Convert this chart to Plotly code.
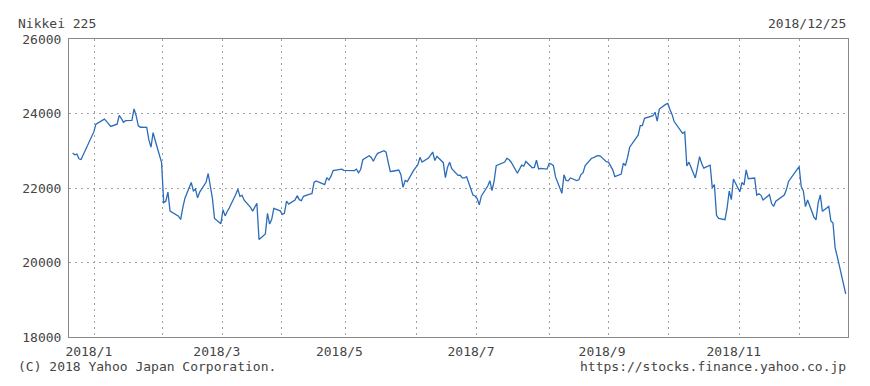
import plotly.graph_objects as go

# ---- data (daily closes) ----
dates = [
    "2017-12-25", "2017-12-26", "2017-12-27", "2017-12-28", "2017-12-29",
    "2018-01-04", "2018-01-05", "2018-01-09", "2018-01-10", "2018-01-11", "2018-01-12",
    "2018-01-15", "2018-01-16", "2018-01-17", "2018-01-18", "2018-01-19",
    "2018-01-22", "2018-01-23", "2018-01-24", "2018-01-25", "2018-01-26",
    "2018-01-29", "2018-01-30", "2018-01-31",
    "2018-02-01", "2018-02-02", "2018-02-05", "2018-02-06", "2018-02-07", "2018-02-08",
    "2018-02-09", "2018-02-13", "2018-02-14", "2018-02-15", "2018-02-16",
    "2018-02-19", "2018-02-20", "2018-02-21", "2018-02-22", "2018-02-23",
    "2018-02-26", "2018-02-27", "2018-02-28",
    "2018-03-01", "2018-03-02", "2018-03-05", "2018-03-06", "2018-03-07", "2018-03-08",
    "2018-03-09", "2018-03-12", "2018-03-13", "2018-03-14", "2018-03-15", "2018-03-16",
    "2018-03-19", "2018-03-20", "2018-03-22", "2018-03-23", "2018-03-26", "2018-03-27",
    "2018-03-28", "2018-03-29", "2018-03-30",
    "2018-04-02", "2018-04-03", "2018-04-04", "2018-04-05", "2018-04-06",
    "2018-04-09", "2018-04-10", "2018-04-11", "2018-04-12", "2018-04-13",
    "2018-04-16", "2018-04-17", "2018-04-18", "2018-04-19", "2018-04-20",
    "2018-04-23", "2018-04-24", "2018-04-25", "2018-04-26", "2018-04-27",
    "2018-05-01", "2018-05-02", "2018-05-07", "2018-05-08", "2018-05-09", "2018-05-10",
    "2018-05-11", "2018-05-14", "2018-05-15", "2018-05-16", "2018-05-17", "2018-05-18",
    "2018-05-21", "2018-05-22", "2018-05-23", "2018-05-24", "2018-05-25",
    "2018-05-28", "2018-05-29", "2018-05-30", "2018-05-31",
    "2018-06-01", "2018-06-04", "2018-06-05", "2018-06-06", "2018-06-07", "2018-06-08",
    "2018-06-11", "2018-06-12", "2018-06-13", "2018-06-14", "2018-06-15",
    "2018-06-18", "2018-06-19", "2018-06-20", "2018-06-21", "2018-06-22",
    "2018-06-25", "2018-06-26", "2018-06-27", "2018-06-28", "2018-06-29",
    "2018-07-02", "2018-07-03", "2018-07-04", "2018-07-05", "2018-07-06",
    "2018-07-09", "2018-07-10", "2018-07-11", "2018-07-12", "2018-07-13",
    "2018-07-17", "2018-07-18", "2018-07-19", "2018-07-20",
    "2018-07-23", "2018-07-24", "2018-07-25", "2018-07-26", "2018-07-27",
    "2018-07-30", "2018-07-31",
    "2018-08-01", "2018-08-02", "2018-08-03", "2018-08-06", "2018-08-07", "2018-08-08",
    "2018-08-09", "2018-08-10", "2018-08-13", "2018-08-14", "2018-08-15", "2018-08-16",
    "2018-08-17", "2018-08-20", "2018-08-21", "2018-08-22", "2018-08-23", "2018-08-24",
    "2018-08-27", "2018-08-28", "2018-08-29", "2018-08-30", "2018-08-31",
    "2018-09-03", "2018-09-04", "2018-09-05", "2018-09-06", "2018-09-07",
    "2018-09-10", "2018-09-11", "2018-09-12", "2018-09-13", "2018-09-14",
    "2018-09-18", "2018-09-19", "2018-09-20", "2018-09-21",
    "2018-09-25", "2018-09-26", "2018-09-27", "2018-09-28",
    "2018-10-01", "2018-10-02", "2018-10-03", "2018-10-04", "2018-10-05",
    "2018-10-09", "2018-10-10", "2018-10-11", "2018-10-12",
    "2018-10-15", "2018-10-16", "2018-10-17", "2018-10-18", "2018-10-19",
    "2018-10-22", "2018-10-23", "2018-10-24", "2018-10-25", "2018-10-26",
    "2018-10-29", "2018-10-30", "2018-10-31",
    "2018-11-01", "2018-11-02", "2018-11-05", "2018-11-06", "2018-11-07", "2018-11-08",
    "2018-11-09", "2018-11-12", "2018-11-13", "2018-11-14", "2018-11-15", "2018-11-16",
    "2018-11-19", "2018-11-20", "2018-11-21", "2018-11-22",
    "2018-11-26", "2018-11-27", "2018-11-28", "2018-11-29", "2018-11-30",
    "2018-12-03", "2018-12-04", "2018-12-05", "2018-12-06", "2018-12-07",
    "2018-12-10", "2018-12-11", "2018-12-12", "2018-12-13", "2018-12-14",
    "2018-12-17", "2018-12-18", "2018-12-19", "2018-12-20", "2018-12-21",
    "2018-12-25",
]
closes = [
    22939, 22892, 22911, 22783, 22764,
    23506, 23714, 23849, 23788, 23710, 23653,
    23714, 23951, 23868, 23763, 23808,
    23816, 24124, 23940, 23669, 23631,
    23629, 23291, 23098,
    23486, 23274, 22682, 21610, 21645, 21890,
    21382, 21244, 21154, 21464, 21720,
    22149, 21925, 21970, 21736, 21892,
    22153, 22389, 22068,
    21724, 21181, 21042, 21417, 21252, 21368,
    21469, 21824, 21968, 21777, 21803, 21676,
    21480, 21380, 21591, 20617, 20766, 21317,
    21031, 21159, 21454,
    21388, 21292, 21319, 21645, 21567,
    21678, 21794, 21687, 21660, 21778,
    21835, 21847, 22158, 22191, 22162,
    22088, 22278, 22215, 22319, 22467,
    22508, 22472, 22467, 22508, 22408, 22497,
    22758, 22865, 22818, 22717, 22838, 22930,
    23002, 22960, 22689, 22437, 22450,
    22481, 22358, 22018, 22201,
    22171, 22475, 22539, 22625, 22823, 22694,
    22804, 22878, 22966, 22738, 22851,
    22680, 22278, 22555, 22693, 22516,
    22338, 22342, 22271, 22270, 22304,
    21811, 21785, 21717, 21546, 21788,
    22052, 22196, 21932, 22187, 22597,
    22697, 22794, 22764, 22698,
    22397, 22510, 22614, 22586, 22712,
    22544, 22553,
    22746, 22512, 22525, 22507, 22662, 22644,
    22598, 22298, 21857, 22356, 22204, 22192,
    22270, 22199, 22219, 22362, 22410, 22601,
    22799, 22813, 22848, 22869, 22865,
    22707, 22696, 22580, 22487, 22307,
    22373, 22664, 22604, 22821, 23094,
    23420, 23672, 23674, 23869,
    23940, 24033, 23796, 24120,
    24245, 24270, 24110, 23975, 23784,
    23469, 23506, 22590, 22694,
    22271, 22549, 22841, 22658, 22532,
    22614, 22010, 22091, 21268, 21184,
    21149, 21457, 21920,
    21687, 22243, 21898, 22147, 22085, 22486,
    22250, 22269, 21810, 21846, 21803, 21680,
    21821, 21583, 21507, 21646,
    21812, 21952, 22177, 22262, 22351,
    22574, 22036, 21919, 21501, 21679,
    21219, 21148, 21602, 21816, 21374,
    21506, 21115, 21058, 20392, 20166,
    19155,
]

# month gridline positions and their labels
grid_dates = [
    "2018-01-04 12:00", "2018-02-05 14:00", "2018-03-05 22:00", "2018-04-02 17:00",
    "2018-05-02 19:00", "2018-06-05 14:00", "2018-07-03 22:00", "2018-08-07 00:00",
    "2018-09-03 19:00", "2018-10-02 05:00", "2018-11-05 00:00", "2018-12-03 00:00",
]
grid_labels = ["2018/1", "", "2018/3", "", "2018/5", "", "2018/7", "",
               "2018/9", "", "2018/11", ""]
y_ticks = [18000, 20000, 22000, 24000, 26000]
y_labels = ["18000", "20000", "22000", "24000", "26000"]

FONT = "DejaVu Sans Mono"
TXT = "#444444"
GRID = "#a0a0a0"

fig = go.Figure()
fig.add_trace(go.Scatter(
    x=dates, y=closes, mode="lines",
    line=dict(color="#2b6cb8", width=1.3),
    hoverinfo="x+y", showlegend=False,
))

# page body has an 8px default margin, so the figure is 8px smaller
fig.update_layout(
    width=862, height=378,
    margin=dict(l=61, r=22, t=31, b=49),
    paper_bgcolor="white", plot_bgcolor="white",
    font=dict(family=FONT, size=13, color=TXT),
    xaxis=dict(
        type="date",
        range=["2017-12-23 07:00", "2018-12-26 02:00"],
        tickmode="array", tickvals=grid_dates, ticktext=grid_labels,
        ticks="", ticklabelshift=-6, ticklabelstandoff=2,
        showgrid=True, gridcolor=GRID, griddash="2px,4px", gridwidth=1,
        showline=True, linecolor="#888888", linewidth=1, mirror=True,
        zeroline=False, tickfont=dict(family=FONT, size=13, color=TXT),
    ),
    yaxis=dict(
        range=[18000, 26000],
        tickmode="array", tickvals=y_ticks, ticktext=y_labels,
        ticks="", ticklabelstandoff=4,
        showgrid=True, gridcolor=GRID, griddash="2px,4px", gridwidth=1,
        showline=True, linecolor="#888888", linewidth=1, mirror=True,
        zeroline=False, tickfont=dict(family=FONT, size=13, color=TXT),
    ),
    annotations=[
        dict(text="Nikkei 225", xref="paper", yref="paper", x=-0.068, y=1.051,
             xanchor="left", yanchor="middle", showarrow=False,
             font=dict(family=FONT, size=13, color=TXT)),
        dict(text="2018/12/25", xref="paper", yref="paper", x=1.0, y=1.051,
             xanchor="right", yanchor="middle", showarrow=False,
             font=dict(family=FONT, size=13, color=TXT)),
        dict(text="(C) 2018 Yahoo Japan Corporation.", xref="paper", yref="paper",
             x=-0.068, y=-0.100, xanchor="left", yanchor="middle", showarrow=False,
             font=dict(family=FONT, size=13, color=TXT)),
        dict(text="https://stocks.finance.yahoo.co.jp", xref="paper", yref="paper",
             x=1.0, y=-0.100, xanchor="right", yanchor="middle", showarrow=False,
             font=dict(family=FONT, size=13, color=TXT)),
    ],
)

fig.write_html("out.html")
